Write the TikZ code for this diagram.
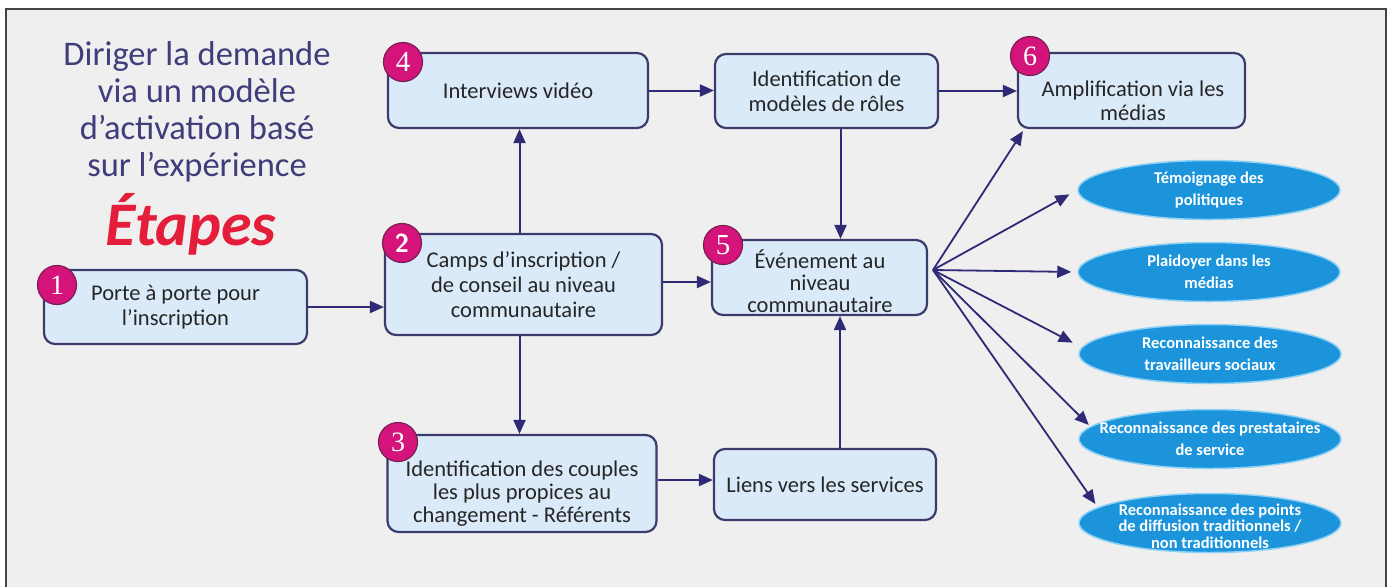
\documentclass[tikz,border=0pt]{standalone}
\usepackage{fontspec}
\setmainfont{Carlito}
\newfontfamily\numserif{Liberation Serif}
\usetikzlibrary{arrows.meta,shapes.geometric}
\definecolor{bgc}{HTML}{EFEFEF}
\definecolor{framec}{HTML}{444444}
\definecolor{navy}{HTML}{2E2A76}
\definecolor{boxdraw}{HTML}{3D3B6E}
\definecolor{boxfill}{HTML}{DAEAF8}
\definecolor{titlec}{HTML}{3F3D7A}
\definecolor{redc}{HTML}{E41E3A}
\definecolor{magc}{HTML}{D4147A}
\definecolor{magd}{HTML}{7A1E55}
\definecolor{ellc}{HTML}{1B94DB}
\definecolor{elld}{HTML}{8FD0F5}
\begin{document}
\begin{tikzpicture}[x=1pt,y=-1pt,
  stepbox/.style={draw=boxdraw, fill=boxfill, line width=2.2pt, rounded corners=11pt,
    align=center, inner sep=0pt, text=black!85, font=\fontsize{22.5}{25}\selectfont},
  boxtext/.style={align=center, inner sep=0pt, text=black!85, font=\fontsize{22.5}{24}\selectfont},
  numc/.style={circle, fill=magc, draw=magd, line width=1.2pt, minimum size=39pt,
    inner sep=0pt, text=white, font=\numserif\fontsize{28}{28}\selectfont},
  ovalbox/.style={ellipse, fill=ellc, draw=elld, line width=1.5pt, minimum width=262pt,
    minimum height=59pt, inner sep=0pt},
  ovaltext/.style={align=center, inner sep=0pt, text=white,
    font=\bfseries\fontsize{16.5}{22}\selectfont},
  arr/.style={draw=navy, line width=2pt, -{Triangle[length=14pt,width=12pt]}},
  fanarr/.style={draw=navy, line width=1.8pt, -{Triangle[length=14pt,width=12pt]}}
]
\useasboundingbox (0,0) rectangle (1388,587);
\fill[white] (0,0) rectangle (1388,587);
\fill[bgc] (6,9) rectangle (1386,587);
\draw[framec, line width=2pt] (6,587) -- (6,9) -- (1386,9) -- (1386,587);

% title
\node[align=center, text=titlec, font=\fontsize{34.5}{37}\selectfont] (title) at (197,112)
  {Diriger la demande\\via un modèle\\d'activation basé\\sur l'expérience};
\node[text=redc, font=\bfseries\itshape\fontsize{62}{62}\selectfont] (etapes) at (191,224) {Étapes};

% boxes
\node[stepbox, minimum width=263pt, minimum height=74pt] (b1) at (175.5,307) {Porte à porte pour\\l'inscription};
\node[stepbox, minimum width=277pt, minimum height=101pt] (b2) at (523.5,284.5) {Camps d'inscription /\\de conseil au niveau\\communautaire};
\node[stepbox, minimum width=260pt, minimum height=75pt] (b4) at (518,90.5) {Interviews vidéo};
\node[stepbox, minimum width=223pt, minimum height=74pt] (id) at (826.5,91) {Identification de\\modèles de rôles};
\node[stepbox, minimum width=227pt, minimum height=75pt] (b6) at (1131.5,90.5) {};
\node[boxtext] (t6) at (1133,101) {Amplification via les\\médias};
\node[stepbox, minimum width=215pt, minimum height=75pt] (b5) at (819.5,277.5) {};
\node[boxtext, font=\fontsize{22.5}{22}\selectfont] (t5) at (820,281) {Événement au\\niveau\\communautaire};
\node[stepbox, minimum width=269pt, minimum height=97pt] (b3) at (522,483.5) {};
\node[boxtext, font=\fontsize{22.5}{23}\selectfont] (t3) at (522,494) {Identification des couples\\les plus propices au\\changement - Référents};
\node[stepbox, minimum width=222pt, minimum height=71pt] (li) at (825,484.5) {Liens vers les services};

% number circles
\node[numc] (n1) at (57,285) {1};
\node[numc] (n2) at (402,243) {\sffamily\bfseries\fontsize{26}{26}\selectfont 2};
\node[numc] (n3) at (398,442) {3};
\node[numc] (n4) at (403,62) {\fontsize{29}{29}\selectfont 4};
\node[numc] (n5) at (723,245) {\fontsize{29}{29}\selectfont 5};
\node[numc] (n6) at (1030,56) {6};

% ellipses
\node[ovalbox] (e1) at (1209,190) {};
\node[ovaltext] (e1t) at (e1) {Témoignage des\\politiques};
\node[ovalbox] (e2) at (1209,272) {};
\node[ovaltext] (e2t) at (e2) {Plaidoyer dans les\\médias};
\node[ovalbox] (e3) at (1210,354) {};
\node[ovaltext] (e3t) at (e3) {Reconnaissance des\\travailleurs sociaux};
\node[ovalbox] (e4) at (1210,439) {};
\node[ovaltext] (e4t) at (e4) {Reconnaissance des prestataires\\de service};
\node[ovalbox] (e5) at (1210,523) {};
\node[ovaltext, font=\bfseries\fontsize{16.5}{16.5}\selectfont] (e5t) at (1210,526) {Reconnaissance des points\\de diffusion traditionnels /\\non traditionnels};

% connectors
\draw[arr] (b1.east) -- (b1.east -| b2.west);
\draw[arr] ([yshift=2.5pt]b2.east) -- ([yshift=2.5pt]b2.east -| b5.west);
\draw[arr] ([xshift=-4pt]b2.north) -- ([xshift=-4pt]b2.north |- b4.south);
\draw[arr] ([xshift=-4pt]b2.south) -- ([xshift=-4pt]b2.south |- b3.north);
\draw[arr] (b4.east) -- (b4.east -| id.west);
\draw[arr] (id.east) -- (id.east -| b6.west);
\draw[arr] ([xshift=14pt]id.south) -- ([xshift=14pt]id.south |- b5.north);
\draw[arr] ([xshift=15pt]li.north) -- ([xshift=15pt]li.north |- b5.south);
\draw[arr] ([yshift=3.5pt]b3.east) -- ([yshift=3.5pt]b3.east -| li.west);

% fan
\coordinate (fan) at (933,270);
\draw[fanarr] (fan) -- ([shift={(6,2)}]b6.south west);
\draw[fanarr, shorten >=9pt] (fan) -- (e1.west);
\draw[fanarr, shorten >=6pt] (fan) -- (e2.west);
\draw[fanarr, shorten >=10pt] (fan) -- (e3.177);
\draw[fanarr, shorten >=2pt] (fan) -- (e4.174);
\draw[fanarr, shorten >=4pt] (fan) -- (e5.172);
\end{tikzpicture}
\end{document}
